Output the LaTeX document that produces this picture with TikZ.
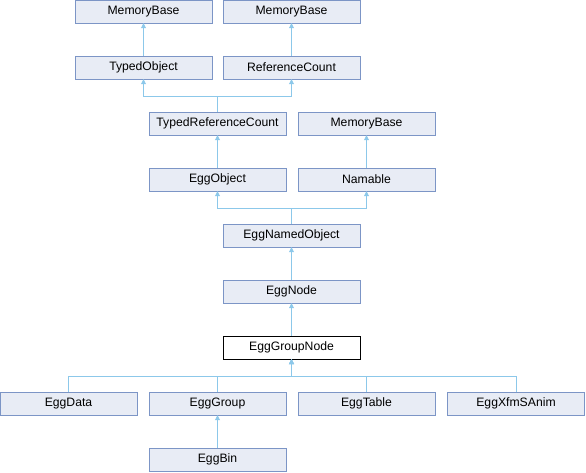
\documentclass[tikz,border=0pt]{standalone}
\usepackage{fontspec}
\setmainfont{Liberation Sans}
\usetikzlibrary{arrows.meta}
\definecolor{eggfill}{HTML}{E8ECF5}
\definecolor{eggline}{HTML}{7C95C6}
\definecolor{eggarrow}{HTML}{8CC8EA}

\begin{document}
\begin{tikzpicture}[x=1pt,y=-1pt,
    cls/.style={draw=eggline,fill=eggfill,minimum width=137pt,minimum height=23pt,inner sep=0pt,font=\fontsize{12.2}{14}\selectfont},
    cur/.style={cls,draw=black,fill=white},
    inh/.style={draw=eggarrow,line width=0.8pt,-{Triangle[width=5pt,length=5pt]}}]
    \useasboundingbox (0,0) rectangle (586,472);
    % classes
    \node[cls] (mbA) at (143.5,11.5) {MemoryBase};
    \node[cls] (mbB) at (291.5,11.5) {MemoryBase};
    \node[cls] (tobj) at (143.5,67.5) {TypedObject};
    \node[cls] (refc) at (291.5,67.5) {ReferenceCount};
    \node[cls] (trc) at (217.5,123.5) {TypedReferenceCount};
    \node[cls] (mbC) at (366.5,123.5) {MemoryBase};
    \node[cls] (eobj) at (217.5,179.5) {EggObject};
    \node[cls] (nam) at (366.5,179.5) {Namable};
    \node[cls] (enobj) at (291.5,235.5) {EggNamedObject};
    \node[cls] (enode) at (291.5,291.5) {EggNode};
    \node[cur] (egn) at (291.5,347.5) {EggGroupNode};
    \node[cls] (edata) at (68.5,403.5) {EggData};
    \node[cls] (egrp) at (217.5,403.5) {EggGroup};
    \node[cls] (etab) at (366.5,403.5) {EggTable};
    \node[cls] (exfm) at (516,403.5) {EggXfmSAnim};
    \node[cls] (ebin) at (217.5,459.5) {EggBin};
    % junctions
    \coordinate (jA) at (217.5,96.5);
    \coordinate (jB) at (291.5,208.5);
    \coordinate (jC) at (291.5,376.5);
    % inheritance
    \draw[inh] (tobj.north) -- (mbA.south);
    \draw[inh] (refc.north) -- (mbB.south);
    \draw[inh] (trc.north) -- (jA) -| (tobj.south);
    \draw[inh] (trc.north) -- (jA) -| (refc.south);
    \draw[inh] (eobj.north) -- (trc.south);
    \draw[inh] (nam.north) -- (mbC.south);
    \draw[inh] (enobj.north) -- (jB) -| (eobj.south);
    \draw[inh] (enobj.north) -- (jB) -| (nam.south);
    \draw[inh] (enode.north) -- (enobj.south);
    \draw[inh] (egn.north) -- (enode.south);
    \draw[inh] (edata.north) |- (jC) -- (egn.south);
    \draw[inh] (egrp.north) |- (jC) -- (egn.south);
    \draw[inh] (etab.north) |- (jC) -- (egn.south);
    \draw[inh] (exfm.north) |- (jC) -- (egn.south);
    \draw[inh] (ebin.north) -- (egrp.south);
\end{tikzpicture}
\end{document}
